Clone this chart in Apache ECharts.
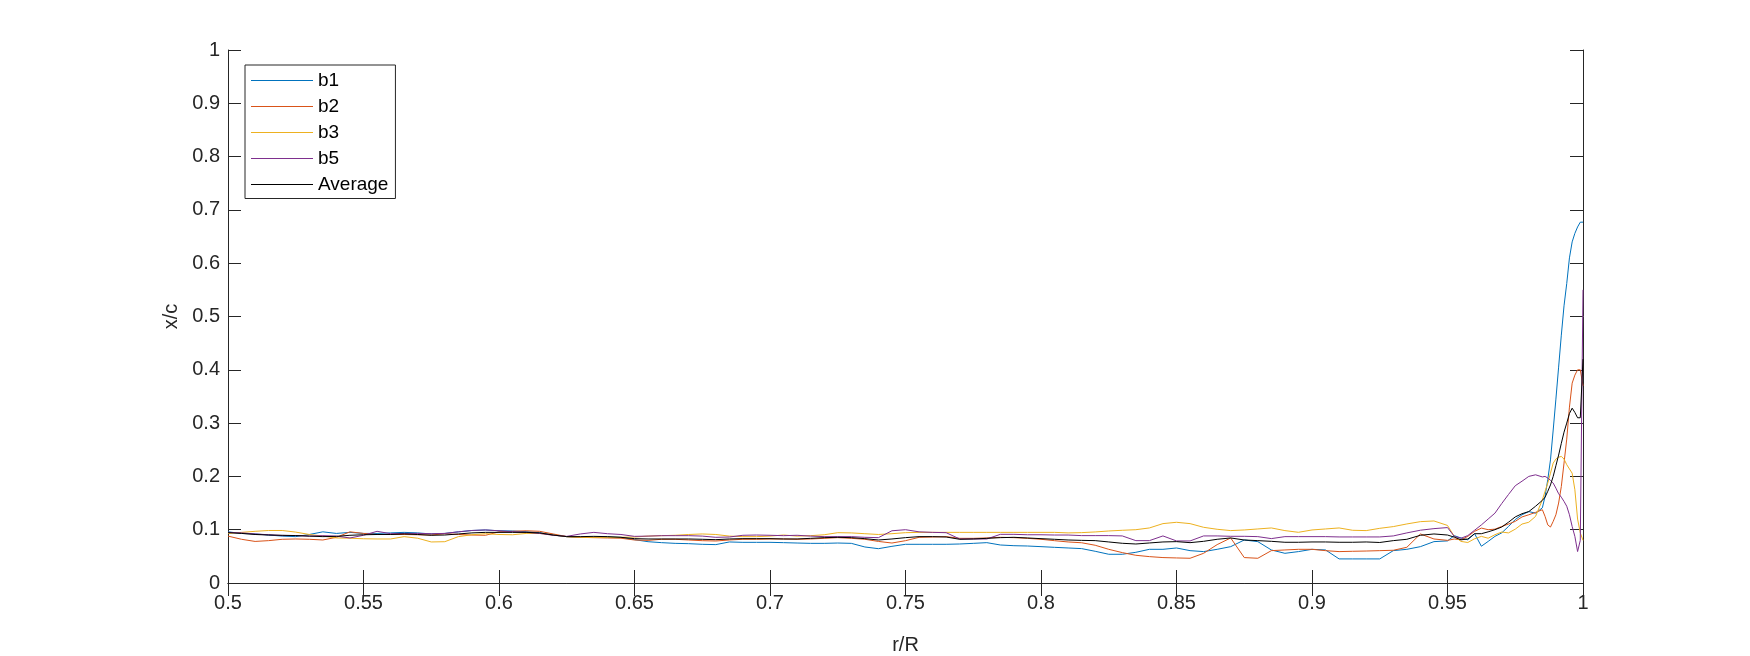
<!DOCTYPE html>
<html>
<head>
<meta charset="utf-8">
<script src="https://cdn.jsdelivr.net/npm/echarts@6/dist/echarts.min.js"></script>
<style>
html,body{margin:0;padding:0;background:#fff;}
#c{width:1750px;height:656px;}
</style>
</head>
<body>
<div id="c"></div>
<script>
// r/R sample positions
const rR = [
  0.500,0.505,0.510,0.515,0.520,0.525,0.530,0.535,0.540,0.545,
  0.550,0.555,0.560,0.565,0.570,0.575,0.580,0.585,0.590,0.595,
  0.600,0.605,0.610,0.615,0.620,0.625,0.630,0.635,0.640,0.645,
  0.650,0.655,0.660,0.665,0.670,0.675,0.680,0.685,0.690,0.695,
  0.700,0.705,0.710,0.715,0.720,0.725,0.730,0.735,0.740,0.745,
  0.750,0.755,0.760,0.765,0.770,0.775,0.780,0.785,0.790,0.795,
  0.800,0.805,0.810,0.815,0.820,0.825,0.830,0.835,0.840,0.845,
  0.850,0.855,0.860,0.865,0.870,0.875,0.880,0.885,0.890,0.895,
  0.900,0.905,0.910,0.915,0.920,0.925,0.930,0.935,0.940,0.945,
  0.950,
  0.9525,0.955,0.9575,0.960,0.9625,0.965,0.9675,0.970,0.9725,0.975,0.9775,0.980,0.9825,0.985,
  0.986,0.987,0.988,0.989,0.990,0.991,0.992,0.993,0.994,0.995,0.996,0.997,0.998,0.999,1.000
];

const b1 = [
  0.096,0.093,0.092,0.090,0.088,0.087,0.091,0.096,0.093,0.095,
  0.093,0.093,0.094,0.095,0.094,0.092,0.093,0.096,0.0985,0.0995,
  0.098,0.0976,0.0963,0.0944,0.090,0.087,0.0857,0.0857,0.0863,0.0857,
  0.0813,0.0775,0.0757,0.0744,0.0738,0.0726,0.072,0.077,0.0763,0.0763,
  0.0763,0.0757,0.075,0.0744,0.0744,0.075,0.0744,0.0676,0.0644,0.0688,
  0.0726,0.0726,0.0726,0.0726,0.0732,0.0744,0.0757,0.0713,0.070,0.0694,
  0.0682,0.0669,0.0657,0.0645,0.0595,0.0539,0.0539,0.0576,0.0632,0.0632,
  0.0657,0.0607,0.0589,0.0632,0.0682,0.0807,0.0776,0.062,0.0557,0.0589,
  0.0632,0.062,0.0452,0.0452,0.0452,0.0452,0.0607,0.0632,0.0682,0.0776,
  0.079,
  0.0888,0.0844,0.081,0.0925,0.069,0.078,0.0875,0.094,0.106,0.119,0.128,0.134,0.131,0.141,
  0.1625,0.194,0.231,0.287,0.345,0.405,0.465,0.52,0.562,0.61,0.64,0.656,0.668,0.677,0.677
];

const b2 = [
  0.088,0.082,0.078,0.0795,0.082,0.0826,0.082,0.0807,0.0857,0.096,
  0.093,0.091,0.091,0.091,0.0905,0.090,0.0925,0.091,0.090,0.0895,
  0.096,0.097,0.098,0.097,0.092,0.087,0.0857,0.0851,0.0845,0.084,
  0.0807,0.080,0.082,0.082,0.0807,0.0794,0.0788,0.0807,0.082,0.082,
  0.0826,0.0826,0.082,0.0826,0.0838,0.0851,0.0838,0.082,0.078,0.075,
  0.0794,0.0857,0.0863,0.087,0.0838,0.0838,0.0845,0.0857,0.0851,0.0838,
  0.082,0.0794,0.077,0.0755,0.0708,0.0632,0.057,0.052,0.0495,0.0477,
  0.047,0.0464,0.0557,0.072,0.0845,0.0477,0.0464,0.0607,0.062,0.0632,
  0.0632,0.0607,0.0589,0.0595,0.060,0.0607,0.0614,0.067,0.092,0.0826,
  0.080,
  0.0825,0.081,0.0875,0.097,0.103,0.1,0.101,0.106,0.1106,0.1156,0.124,0.128,0.1325,0.1375,
  0.125,0.109,0.105,0.1156,0.128,0.15,0.181,0.225,0.27,0.33,0.375,0.39,0.40,0.40,0.37
];

const b3 = [
  0.093,0.095,0.097,0.0985,0.0985,0.0955,0.091,0.088,0.0845,0.084,
  0.083,0.0826,0.0826,0.087,0.084,0.077,0.0775,0.087,0.0905,0.0925,
  0.091,0.0905,0.093,0.093,0.090,0.087,0.0857,0.0857,0.0857,0.0857,
  0.0863,0.088,0.0888,0.0895,0.091,0.092,0.091,0.088,0.087,0.087,
  0.088,0.090,0.088,0.0888,0.0905,0.0944,0.094,0.0925,0.091,0.0925,
  0.0944,0.095,0.095,0.095,0.095,0.095,0.095,0.095,0.095,0.095,
  0.095,0.095,0.094,0.0945,0.0958,0.0976,0.0989,0.100,0.1033,0.1114,
  0.1139,0.1114,0.1045,0.1008,0.0983,0.0995,0.1014,0.1033,0.0983,0.0951,
  0.0995,0.1014,0.1033,0.0989,0.0983,0.1026,0.1058,0.1108,0.1151,0.1164,
  0.108,
  0.0875,0.078,0.076,0.083,0.0875,0.084,0.0906,0.0956,0.094,0.101,0.1106,0.114,0.125,0.156,
  0.172,0.1875,0.206,0.225,0.2325,0.236,0.2375,0.2325,0.222,0.214,0.206,0.175,0.12,0.094,0.08
];

const b5 = [
  0.095,0.094,0.092,0.0905,0.089,0.089,0.088,0.0888,0.088,0.0845,
  0.0895,0.097,0.0925,0.093,0.093,0.0925,0.093,0.096,0.0985,0.0995,
  0.098,0.0963,0.095,0.093,0.0895,0.0875,0.092,0.095,0.0925,0.091,
  0.0875,0.088,0.0888,0.0888,0.0888,0.088,0.0857,0.0863,0.0895,0.090,
  0.0895,0.0888,0.0895,0.088,0.087,0.087,0.087,0.0857,0.0851,0.098,
  0.100,0.096,0.095,0.0944,0.0826,0.0826,0.0826,0.0913,0.0913,0.0905,
  0.0905,0.090,0.090,0.0889,0.0889,0.0889,0.0883,0.0795,0.0795,0.0883,
  0.0789,0.0789,0.0883,0.0883,0.0876,0.0876,0.087,0.0833,0.087,0.087,
  0.087,0.087,0.0864,0.0864,0.0864,0.0864,0.0883,0.094,0.099,0.102,
  0.104,
  0.0875,0.084,0.089,0.099,0.109,0.12,0.131,0.149,0.166,0.1825,0.191,0.2,0.203,0.199,
  0.2,0.197,0.1925,0.1875,0.178,0.1675,0.161,0.153,0.144,0.128,0.106,0.0875,0.059,0.08,0.55
];

const average = [
  0.0944,0.093,0.091,0.090,0.0895,0.089,0.088,0.087,0.0875,0.0895,
  0.0905,0.091,0.091,0.092,0.091,0.0895,0.090,0.092,0.094,0.095,
  0.095,0.095,0.095,0.094,0.090,0.087,0.087,0.0875,0.087,0.0857,
  0.0832,0.0826,0.0826,0.0826,0.0826,0.082,0.0813,0.0826,0.0832,0.0832,
  0.0832,0.0826,0.0826,0.0838,0.0851,0.0857,0.0851,0.0832,0.0807,0.0826,
  0.0851,0.087,0.087,0.0863,0.082,0.0826,0.0838,0.0851,0.0857,0.0845,
  0.0832,0.082,0.0807,0.080,0.0795,0.077,0.0745,0.0732,0.0751,0.077,
  0.0776,0.0757,0.0782,0.082,0.0845,0.0807,0.0795,0.0782,0.0764,0.0764,
  0.077,0.077,0.0764,0.0764,0.077,0.076,0.0795,0.082,0.0895,0.092,
  0.090,
  0.086,0.081,0.0825,0.0925,0.0925,0.096,0.1,0.105,0.114,0.124,0.13,0.134,0.144,0.155,
  0.161,0.172,0.184,0.2,0.22,0.24,0.262,0.283,0.30,0.318,0.328,0.32,0.31,0.31,0.42
];

const seriesNames = ['b1','b2','b3','b5','Average'];
const seriesValues = [b1, b2, b3, b5, average];
const seriesColors = ['#0072BD','#D95319','#EDB120','#7E2F8E','#000000'];

const AX = '#262626';
const FONT = '"Liberation Sans", Arial, Helvetica, sans-serif';

const chart = echarts.init(document.getElementById('c'), null, {renderer:'canvas', width:1750, height:656});

const baseX = {
  type:'value', min:0.5, max:1, interval:0.05,
  axisLine:{show:true, lineStyle:{color:AX, width:1}},
  axisTick:{show:true, inside:true, length:13, lineStyle:{color:AX, width:1}},
  splitLine:{show:false}
};
const baseY = {
  type:'value', min:0, max:1, interval:0.1,
  axisLine:{show:true, lineStyle:{color:AX, width:1}},
  axisTick:{show:true, inside:true, length:13, lineStyle:{color:AX, width:1}},
  splitLine:{show:false}
};

const option = {
  animation:false,
  backgroundColor:'#ffffff',
  grid:{left:228, right:167, top:50, bottom:73, containLabel:false, outerBoundsMode:'none'},
  xAxis:[
    Object.assign({}, baseX, {
      position:'bottom',
      name:'r/R', nameLocation:'middle', nameGap:52,
      nameTextStyle:{fontSize:20, color:AX, fontFamily:FONT},
      axisLabel:{show:true, fontSize:20, color:AX, fontFamily:FONT, margin:10}
    }),
    Object.assign({}, baseX, {position:'top', axisLabel:{show:false}})
  ],
  yAxis:[
    Object.assign({}, baseY, {
      position:'left',
      name:'x/c', nameLocation:'middle', nameGap:44,
      nameTextStyle:{fontSize:20, color:AX, fontFamily:FONT},
      axisLabel:{show:true, fontSize:20, color:AX, fontFamily:FONT, margin:8}
    }),
    Object.assign({}, baseY, {position:'right', axisLabel:{show:false}})
  ],
  legend:{
    orient:'vertical', left:245, top:65,
    icon:'rect',
    itemWidth:62, itemHeight:1, itemGap:6,
    padding:[5.5,7,4,6],
    borderColor:AX, borderWidth:1, borderRadius:0,
    backgroundColor:'#ffffff',
    textStyle:{fontSize:19, color:'#000000', fontFamily:FONT, lineHeight:20},
    data:seriesNames
  },
  series: seriesNames.map((n, k) => ({
    name:n, type:'line', xAxisIndex:0, yAxisIndex:0,
    symbol:'none', showSymbol:false, silent:true,
    color:seriesColors[k],
    itemStyle:{color:seriesColors[k]},
    lineStyle:{color:seriesColors[k], width:1},
    data: rR.map((x, i) => [x, seriesValues[k][i]]),
    z: 2 + k
  }))
};
chart.setOption(option);
</script>
</body>
</html>
